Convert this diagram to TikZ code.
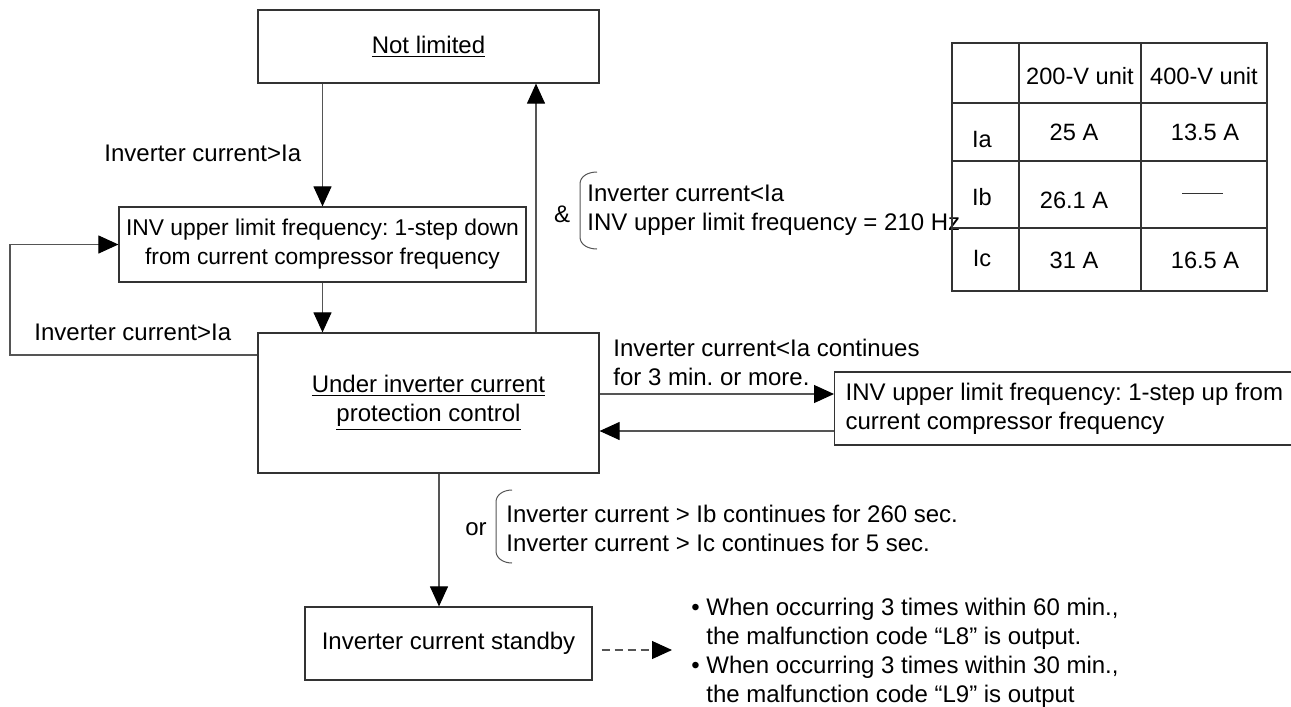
\documentclass[tikz,border=0pt]{standalone}
\usepackage{fontspec}
\setmainfont{Liberation Sans}
\usetikzlibrary{arrows.meta,positioning}
\definecolor{LineGray}{HTML}{333333}
\definecolor{WireGray}{HTML}{555555}

\tikzset{
  statebox/.style={draw=LineGray,line width=0.6pt,inner sep=0pt,align=center,font=\fontsize{12}{14.5}\selectfont},
  wire/.style={WireGray,line width=0.55pt,-{Triangle[length=10pt,width=9pt,color=black]}},
  lbl/.style={inner sep=0pt,align=left,anchor=west,font=\fontsize{12}{14.5}\selectfont},
  cell/.style={inner sep=0pt,font=\fontsize{11.8}{14}\selectfont},
  bracket/.style={WireGray,line width=0.5pt}
}

\begin{document}
\frenchspacing
\begin{tikzpicture}[x=0.5pt,y=-0.5pt]
  \useasboundingbox (0,0) rectangle (1291,707);
  % states
  \node[statebox,minimum width=170.5pt,minimum height=36.5pt] (notlim) at (428.5,46.5) {\underline{Not limited}};
  \node[statebox,minimum width=203.5pt,minimum height=37.5pt,font=\fontsize{11.4}{14.5}\selectfont] (stepdown) at (322.5,244.5)
    {INV upper limit frequency: 1-step down\\from current compressor frequency};
  \node[statebox,minimum width=170.5pt,minimum height=70pt] (underctl) at (428.5,403)
    {\underline{Under inverter current}\\\underline{protection control}};
  \node[statebox,anchor=west,align=flush left,text width=225pt,inner xsep=5.5pt,minimum height=36.5pt] (stepup) at (834,408.5)
    {INV upper limit frequency: 1-step up from\\current compressor frequency};
  \node[statebox,minimum width=143.5pt,minimum height=36.5pt] (standby) at (448.5,643.5) {Inverter current standby};

  % conditions
  \node[lbl] (lbldown) at (104,153) {Inverter current>Ia};
  \node[lbl] (lblloop) at (34,332) {Inverter current>Ia};
  \node[lbl,anchor=center] (amp) at (562,214) {\&};
  \node[lbl] (lblback) at (587,210) {Inverter current<Ia\\INV upper limit frequency = 210 Hz};
  \node[lbl] (lblup) at (613,362) {Inverter current<Ia continues\\for 3 min. or more.};
  \node[lbl,anchor=center] (orlbl) at (476,529) {or};
  \node[lbl] (lblstop) at (506,528.5) {Inverter current > Ib continues for 260 sec.\\Inverter current > Ic continues for 5 sec.};
  \node[lbl] (notes) at (691,653) {• When occurring 3 times within 60 min.,\\\phantom{• }the malfunction code “L8” is output.\\• When occurring 3 times within 30 min.,\\\phantom{• }the malfunction code “L9” is output};

  \draw[bracket] (597,172) to[out=180,in=90] (580,184) -- (580,237) to[out=-90,in=180] (597,249);
  \draw[bracket] (512,490) to[out=180,in=90] (496,502) -- (496,551) to[out=-90,in=180] (512,563);

  % transitions
  \coordinate (loopL) at (10,355);
  \coordinate (upx) at (536,0);
  \coordinate (dnx) at (439,0);
  \coordinate (hiA) at (0,394);
  \coordinate (loB) at (0,431);
  \coordinate (noteend) at (672,650);
  \draw[wire] (notlim.south -| stepdown.north) -- (stepdown.north);
  \draw[wire] (stepdown.south) -- (stepdown.south |- underctl.north);
  \draw[wire] (underctl.west |- loopL) -- (loopL) |- (stepdown.west);
  \draw[wire] (underctl.north -| upx) -- (notlim.south -| upx);
  \draw[wire] (underctl.east |- hiA) -- (stepup.west |- hiA);
  \draw[wire] (stepup.west |- loB) -- (underctl.east |- loB);
  \draw[wire] (underctl.south -| dnx) -- (standby.north -| dnx);
  \draw[wire,dash pattern=on 4pt off 2.5pt,shorten <=4.5pt] (standby.east |- noteend) -- (noteend);

  % current table
  \draw[LineGray,line width=0.6pt] (952,43) rectangle (1267,291);
  \foreach \x in {1019,1141} \draw[LineGray,line width=0.6pt] (\x,43) -- (\x,291);
  \foreach \y in {103,161,228} \draw[LineGray,line width=0.6pt] (952,\y) -- (1267,\y);
  \node[cell] (hdA) at (1080,76) {200-V unit};
  \node[cell] (hdB) at (1204,76) {400-V unit};
  \foreach \name/\ry/\vy/\va/\vb in {Ia/139/132/25 A/13.5 A,Ib/197/200/26.1 A/,Ic/258/260/31 A/16.5 A} {
    \node[cell] (row\name) at (982,\ry) {\name};
    \node[cell] (a\name) at (1074,\vy) {\va};
    \node[cell] (b\name) at (1205,\vy) {\vb};
  }
  \draw[LineGray,line width=0.5pt] (1182,193) -- (1223,193);
\end{tikzpicture}
\end{document}
